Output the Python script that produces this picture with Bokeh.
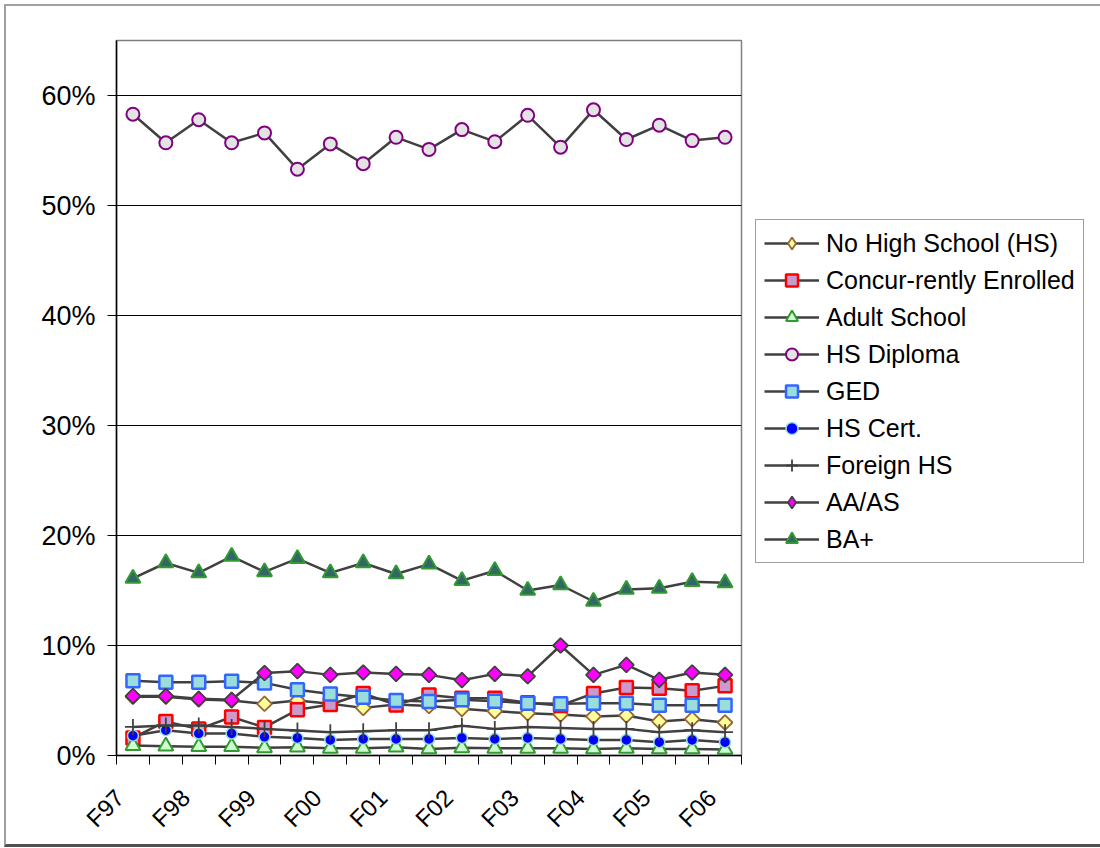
import numpy as np
from bokeh.plotting import figure
from bokeh.models import Range1d, FixedTicker, NumeralTickFormatter, Legend, LegendItem
from bokeh.embed import file_html
from bokeh.resources import INLINE

# ---- data (percent) ----
terms = ["F97", "S98", "F98", "S99", "F99", "S00", "F00", "S01", "F01", "S02",
         "F02", "S03", "F03", "S04", "F04", "S05", "F05", "S06", "F06"]
tick_labels = terms[::2]

no_hs = [5.35, 5.35, 5.1, 5.0, 4.7, 5.0, 4.7, 4.33, 4.64, 4.5,
         4.24, 4.03, 3.85, 3.73, 3.55, 3.64, 3.1, 3.3, 3.0]
concurrent = [1.6, 3.1, 2.4, 3.5, 2.55, 4.15, 4.64, 5.64, 4.6, 5.5,
              5.2, 5.2, 4.8, 4.55, 5.64, 6.18, 6.12, 5.88, 6.33]
adult = [0.9, 0.85, 0.8, 0.8, 0.7, 0.75, 0.65, 0.65, 0.75, 0.6,
         0.7, 0.65, 0.65, 0.65, 0.6, 0.65, 0.6, 0.6, 0.55]
hs_diploma = [58.3, 55.7, 57.8, 55.7, 56.6, 53.3, 55.6, 53.8, 56.2, 55.1,
              56.9, 55.8, 58.2, 55.3, 58.7, 56.0, 57.3, 55.9, 56.2]
ged = [6.8, 6.67, 6.67, 6.76, 6.6, 5.97, 5.6, 5.3, 5.0, 4.9,
       5.06, 4.94, 4.76, 4.7, 4.76, 4.76, 4.57, 4.57, 4.57]
hs_cert = [1.8, 2.3, 2.0, 2.0, 1.7, 1.6, 1.42, 1.5, 1.5, 1.5,
           1.6, 1.5, 1.6, 1.5, 1.42, 1.42, 1.21, 1.42, 1.21]
foreign_hs = [2.6, 2.73, 2.73, 2.6, 2.42, 2.27, 2.12, 2.2, 2.3, 2.3,
              2.7, 2.42, 2.58, 2.5, 2.42, 2.42, 2.12, 2.3, 2.12]
aa_as = [5.4, 5.4, 5.15, 5.06, 7.5, 7.67, 7.33, 7.55, 7.42, 7.33,
         6.85, 7.42, 7.2, 10.0, 7.33, 8.24, 6.88, 7.55, 7.33]
ba_plus = [16.1, 17.5, 16.6, 18.1, 16.7, 17.9, 16.6, 17.5, 16.5, 17.4,
           15.9, 16.8, 15.0, 15.5, 14.0, 15.1, 15.2, 15.8, 15.7]

series_names = ["No High School (HS)", "Concur-rently Enrolled", "Adult School",
                "HS Diploma", "GED", "HS Cert.", "Foreign HS", "AA/AS", "BA+"]
series_values = [no_hs, concurrent, adult, hs_diploma, ged, hs_cert,
                 foreign_hs, aa_as, ba_plus]

# ---- styles ----
D = np.pi / 4
styles = [
    dict(marker="square", angle=D, size=10.5, fill_color="#FFFF99", line_color="#996633", line_width=1.8, legend_marker="diamond"),
    dict(marker="square", angle=0, size=13, fill_color="#CC99CC", line_color="#FF0000", line_width=2.5, legend_marker=None),
    dict(marker="triangle", angle=0, size=15, fill_color="#CCFFCC", line_color="#339933", line_width=2, legend_marker=None),
    dict(marker="circle", angle=0, size=13, fill_color="#E3E3E3", line_color="#800080", line_width=2, legend_marker=None),
    dict(marker="square", angle=0, size=13, fill_color="#99DDDD", line_color="#3366FF", line_width=2.5, legend_marker=None),
    dict(marker="circle", angle=0, size=11, fill_color="#0000FF", line_color="#99DDDD", line_width=1.5, legend_marker=None),
    dict(marker="cross", angle=0, size=16, fill_color=None, line_color="#404040", line_width=1.8, legend_marker=None),
    dict(marker="square", angle=D, size=10.5, fill_color="#FF00FF", line_color="#404040", line_width=1.8, legend_marker="diamond"),
    dict(marker="triangle", angle=0, size=15, fill_color="#336666", line_color="#339933", line_width=2, legend_marker=None),
]

FONT = "Liberation Sans"
n = len(terms)
x = np.arange(n) + 0.5
label_pos = np.arange(0, n, 2) + 0.1

p = figure(frame_width=625, frame_height=715,
           min_border_left=110, min_border_top=34, min_border_bottom=87, min_border_right=356,
           x_range=Range1d(0, n), y_range=Range1d(0, 0.65),
           output_backend="svg", toolbar_location=None)
p.styles = {"margin-left": "4px", "margin-top": "4px",
            "border-left": "2px solid #a0a0a0", "border-top": "2px solid #a0a0a0",
            "border-bottom": "3px solid #505050"}
p.outline_line_color = "#808080"
p.outline_line_width = 1.5
p.background_fill_color = "white"
p.border_fill_color = "white"

# grid
p.xgrid.visible = False
p.ygrid.ticker = FixedTicker(ticks=[0.1, 0.2, 0.3, 0.4, 0.5, 0.6])
p.ygrid.grid_line_color = "black"
p.ygrid.grid_line_width = 1

# y axis
p.yaxis.ticker = FixedTicker(ticks=[0, 0.1, 0.2, 0.3, 0.4, 0.5, 0.6])
p.yaxis.formatter = NumeralTickFormatter(format="0%")
p.yaxis.major_label_text_font = FONT
p.yaxis.major_label_text_font_size = "27px"
p.yaxis.major_label_text_color = "black"
p.yaxis.major_tick_out = 9
p.yaxis.major_tick_in = 0
p.yaxis.major_tick_line_color = "black"
p.yaxis.minor_tick_line_color = None
p.yaxis.axis_line_color = "black"
p.yaxis.axis_line_width = 1.5
p.yaxis.major_label_standoff = 12

# x axis
p.xaxis.ticker = FixedTicker(ticks=list(label_pos), minor_ticks=list(range(n + 1)))
p.xaxis.major_label_overrides = {float(v): lab for v, lab in zip(label_pos, tick_labels)}
p.xaxis.major_label_orientation = np.pi / 4
p.xaxis.major_label_text_font = FONT
p.xaxis.major_label_text_font_size = "24px"
p.xaxis.major_label_text_color = "black"
p.xaxis.major_tick_line_color = None
p.xaxis.major_tick_out = 9
p.xaxis.major_tick_in = 0
p.xaxis.minor_tick_line_color = "black"
p.xaxis.minor_tick_out = 9
p.xaxis.minor_tick_in = 0
p.xaxis.axis_line_color = "black"
p.xaxis.axis_line_width = 1.5
p.xaxis.major_label_standoff = 29

items = []
for name, vals, st in zip(series_names, series_values, styles):
    y = np.array(vals) / 100.0
    lr = p.line(x, y, line_color="#404040", line_width=2.5)
    sr = p.scatter(x, y, marker=st["marker"], angle=st["angle"], size=st["size"],
                   fill_color=st["fill_color"], line_color=st["line_color"],
                   line_width=st["line_width"])
    if st["legend_marker"]:
        # legend-only marker (NaN point, not drawn in the plot), since legend glyphs are drawn unrotated
        lm = p.scatter([np.nan], [np.nan], marker=st["legend_marker"], size=st["size"],
                       fill_color=st["fill_color"], line_color=st["line_color"],
                       line_width=st["line_width"])
        items.append(LegendItem(label=name, renderers=[lr, lm]))
    else:
        items.append(LegendItem(label=name, renderers=[lr, sr]))

legend = Legend(items=items, location=(14, 192))
legend.margin = 0
legend.padding = 8
legend.spacing = 7
legend.glyph_width = 55
legend.glyph_height = 30
legend.label_height = 30
legend.label_standoff = 7
legend.label_text_font = FONT
legend.label_text_font_size = "25px"
legend.label_text_color = "black"
legend.border_line_color = "#404040"
legend.border_line_width = 1
legend.background_fill_color = "white"
legend.background_fill_alpha = 1
p.add_layout(legend, "right")

open("out.html", "w").write(file_html(p, INLINE))
